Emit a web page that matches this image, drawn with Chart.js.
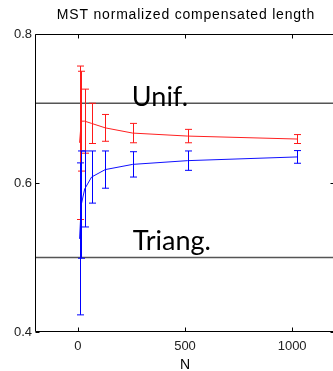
<!DOCTYPE html>
<html>
<head>
<meta charset="utf-8">
<script src="https://cdn.jsdelivr.net/npm/chart.js@4/dist/chart.umd.min.js"></script>
<style>
html,body{margin:0;padding:0;background:#fff;overflow:hidden;}
#wrap{width:336px;height:371px;}
</style>
</head>
<body>
<div id="wrap"><canvas id="c" width="336" height="371"></canvas></div>
<script>
// ---- data ----
const Ns = [8, 16, 32, 64, 128, 256, 512, 1024];
const redMean = [0.654, 0.683, 0.683, 0.680, 0.674, 0.667, 0.663, 0.659];
const redErr  = [0.103, 0.067, 0.043, 0.027, 0.018, 0.013, 0.009, 0.006];
const blueMean = [0.525, 0.571, 0.592, 0.608, 0.618, 0.625, 0.630, 0.635];
const blueErr  = [0.102, 0.072, 0.051, 0.035, 0.025, 0.017, 0.013, 0.0085];
const unifValue = 0.7071;
const triangValue = 0.5;
const xTicks = [0, 500, 1000];
const yTicks = [0.4, 0.6, 0.8];
const xRange = [-200, 1200];
const yRange = [0.4, 0.8];
const titleText = 'MST normalized compensated length';
const xLabel = 'N';
const refLabels = [
  {text: 'Unif.', x: 252, y: 0.7034},
  {text: 'Triang.', x: 256, y: 0.510}
];

const toPts = (xs, ys) => xs.map((x, i) => ({x: x, y: ys[i]}));

const errorBarPlugin = {
  id: 'errbars',
  afterDatasetsDraw(chart) {
    const ctx = chart.ctx, xs = chart.scales.x, ys = chart.scales.y;
    const drawSet = (means, errs, color) => {
      ctx.save();
      ctx.strokeStyle = color;
      ctx.lineWidth = 1;
      Ns.forEach((n, i) => {
        const px = Math.round(xs.getPixelForValue(n)) + 0.5;
        const top = ys.getPixelForValue(means[i] + errs[i]);
        const bot = ys.getPixelForValue(means[i] - errs[i]);
        ctx.beginPath();
        ctx.moveTo(px, top); ctx.lineTo(px, bot);
        ctx.moveTo(px - 3.5, top); ctx.lineTo(px + 3.5, top);
        ctx.moveTo(px - 3.5, bot); ctx.lineTo(px + 3.5, bot);
        ctx.stroke();
      });
      ctx.restore();
    };
    drawSet(redMean, redErr, '#ff1a1a');
    drawSet(blueMean, blueErr, '#0000ff');

    // reference labels
    ctx.save();
    ctx.fillStyle = '#000';
    ctx.font = '27px Lato';
    ctx.textBaseline = 'alphabetic';
    ctx.textAlign = 'left';
    refLabels.forEach(l => ctx.fillText(l.text, xs.getPixelForValue(l.x), ys.getPixelForValue(l.y)));
    ctx.restore();

    // frame + inward ticks
    const a = chart.chartArea;
    ctx.save();
    ctx.strokeStyle = '#000';
    ctx.lineWidth = 1;
    const L = Math.round(a.left) + 0.5, R = Math.round(a.right) - 0.5;
    const T = Math.round(a.top) + 0.5, B = Math.round(a.bottom) - 0.5;
    ctx.beginPath();
    ctx.moveTo(R, T); ctx.lineTo(L, T); ctx.lineTo(L, B); ctx.lineTo(R, B);
    xTicks.forEach(v => {
      const px = Math.round(xs.getPixelForValue(v)) + 0.5;
      ctx.moveTo(px, B); ctx.lineTo(px, B - 4);
      ctx.moveTo(px, T); ctx.lineTo(px, T + 4);
    });
    yTicks.forEach(v => {
      const py = Math.round(ys.getPixelForValue(v)) + 0.5;
      ctx.moveTo(L, py); ctx.lineTo(L + 4, py);
      ctx.moveTo(R, py); ctx.lineTo(R - 4, py);
    });
    ctx.stroke();

    // title
    ctx.fillStyle = '#000';
    ctx.font = '14px "Liberation Sans"';
    ctx.letterSpacing = '0.8px';
    ctx.textAlign = 'center';
    ctx.textBaseline = 'alphabetic';
    ctx.fillText(titleText, 186, 19);
    ctx.restore();
  }
};

new Chart(document.getElementById('c'), {
  type: 'line',
  data: {
    datasets: [
      {data: toPts(xRange, [unifValue, unifValue]), borderColor: '#555555', borderWidth: 1.5, pointRadius: 0},
      {data: toPts(xRange, [triangValue, triangValue]), borderColor: '#555555', borderWidth: 1.5, pointRadius: 0},
      {data: toPts(Ns, redMean), borderColor: '#ff2020', borderWidth: 1, pointRadius: 0, tension: 0},
      {data: toPts(Ns, blueMean), borderColor: '#1010ff', borderWidth: 1, pointRadius: 0, tension: 0}
    ]
  },
  options: {
    responsive: false,
    animation: false,
    devicePixelRatio: 1,
    layout: {padding: {left: 0, right: 1, top: 34, bottom: 0}},
    plugins: {
      legend: {display: false},
      tooltip: {enabled: false},
      title: {display: false}
    },
    scales: {
      x: {
        type: 'linear', min: xRange[0], max: xRange[1],
        grid: {display: false, drawTicks: false}, border: {display: false},
        afterBuildTicks: s => { s.ticks = xTicks.map(v => ({value: v})); },
        afterFit: s => { s.height = 39; },
        ticks: {color: '#222', padding: 7, maxRotation: 0, font: {family: 'Liberation Sans', size: 13},
                callback: v => String(v)},
        title: {display: true, text: xLabel, color: '#000', padding: {top: 0, bottom: -3},
                font: {family: 'Liberation Sans', size: 14}}
      },
      y: {
        type: 'linear', min: yRange[0], max: yRange[1],
        grid: {display: false, drawTicks: false}, border: {display: false},
        afterBuildTicks: s => { s.ticks = yTicks.map(v => ({value: v})); },
        afterFit: s => { s.width = 35; },
        ticks: {color: '#222', padding: 3, font: {family: 'Liberation Sans', size: 13},
                callback: v => v.toFixed(1)}
      }
    }
  },
  plugins: [errorBarPlugin]
});
</script>
</body>
</html>
